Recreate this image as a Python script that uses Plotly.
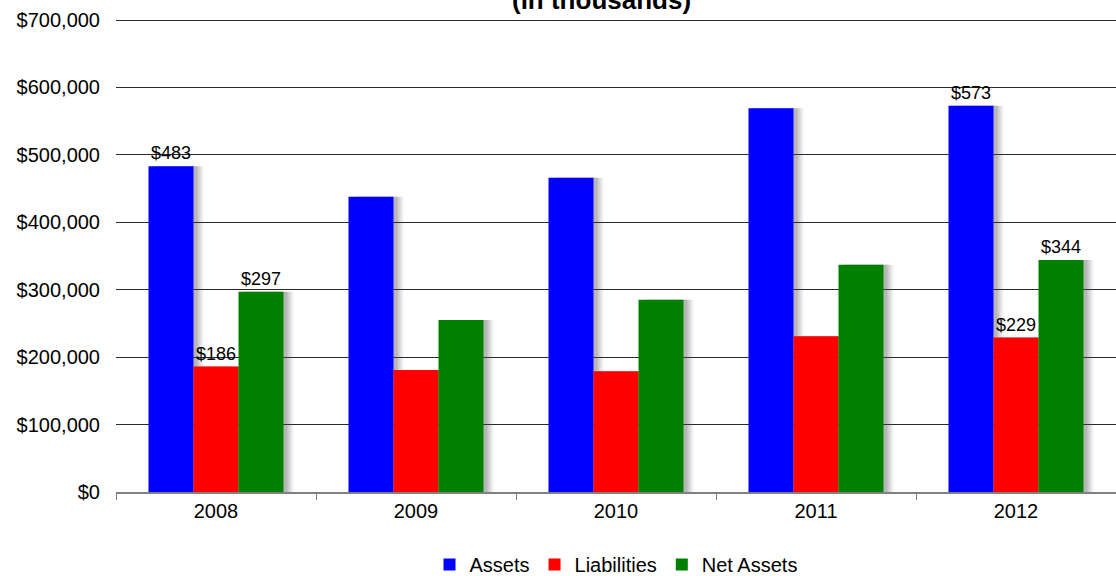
import plotly.graph_objects as go

years = ["2008", "2009", "2010", "2011", "2012"]
assets = [483, 438, 466, 569, 573]
liabilities = [186, 181, 179, 231, 229]
net_assets = [297, 255, 285, 337, 344]
label_years = ["2008", "2012"]

series = [
    ("Assets", assets, "#0000FF"),
    ("Liabilities", liabilities, "#FF0000"),
    ("Net Assets", net_assets, "#008000"),
]

bar_w = 0.225
offsets = [-0.3375, -0.1125, 0.1125]
FONT = "Liberation Sans, Arial, sans-serif"

fig = go.Figure()

# soft drop shadows (drawn first, behind the bars)
for (name, vals, color), off in zip(series, offsets):
    yv = [v * 1000 for v in vals]
    for shift, op in [(0.05, 0.07), (0.04, 0.10), (0.03, 0.13), (0.02, 0.16)]:
        fig.add_trace(go.Bar(
            x=years, y=yv, width=bar_w, offset=off + shift,
            marker=dict(color="rgba(70,70,70,%s)" % op, line=dict(width=0)),
            showlegend=False, hoverinfo="skip",
        ))

for (name, vals, color), off in zip(series, offsets):
    yv = [v * 1000 for v in vals]
    texts = ["$%d" % v if yr in label_years else "" for yr, v in zip(years, vals)]
    fig.add_trace(go.Bar(
        name=name, x=years, y=yv, width=bar_w, offset=off,
        marker=dict(color=color, line=dict(width=0)),
        text=texts, textposition="outside", cliponaxis=False,
        textfont=dict(family=FONT, size=18, color="#000000"),
    ))

fig.update_layout(
    width=1116, height=576,
    barmode="overlay",
    paper_bgcolor="white", plot_bgcolor="white",
    margin=dict(l=116, r=0, t=18, b=84, autoexpand=False),
    font=dict(family=FONT, size=20, color="#000000"),
    title=dict(text="<b>(in thousands)</b>", x=0.539, xanchor="center",
               y=1.0, yanchor="middle", yref="container",
               font=dict(family=FONT, size=26, color="#000000")),
    legend=dict(orientation="h", x=0.5, xanchor="center", y=-0.153, yanchor="middle",
                font=dict(family=FONT, size=20), traceorder="normal",
                itemwidth=30),
    xaxis=dict(type="category", tickson="boundaries", ticks="outside", ticklen=6,
               tickcolor="#777777", tickwidth=1, showline=True, linecolor="#808080",
               linewidth=2, showgrid=False, tickfont=dict(size=20)),
    yaxis=dict(range=[0, 703000], dtick=100000, tick0=0, tickprefix="$", tickformat=",.0f",
               ticks="", ticklabelstandoff=15,
               showgrid=True, gridcolor="#2a2a2a", gridwidth=1,
               showline=False, zeroline=False, tickfont=dict(size=20)),
)

fig.write_html("out.html",
               config={"displayModeBar": False},
               post_script="document.body.style.margin='0';document.body.style.overflow='hidden';")
